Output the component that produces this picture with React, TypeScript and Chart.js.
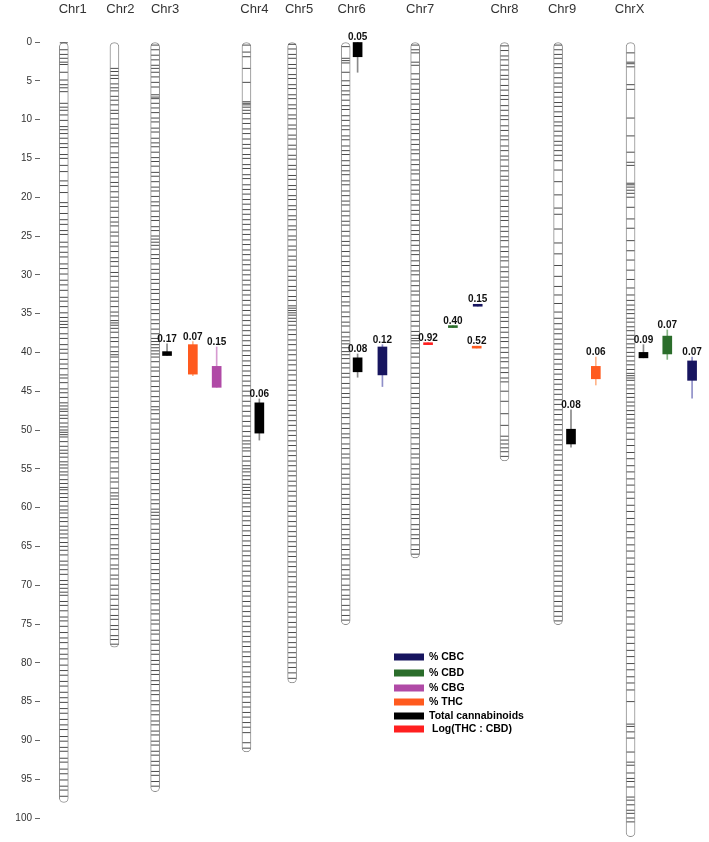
import React, { useEffect, useRef } from "react";
import { Chart, registerables } from "chart.js";

Chart.register(...registerables);

// ---------- DATA ----------
const chromNames = ["Chr1", "Chr2", "Chr3", "Chr4", "Chr5", "Chr6", "Chr7", "Chr8", "Chr9", "ChrX"];
const chromLengths = [98, 78, 96.6, 91.5, 82.6, 75.1, 66.5, 54, 75.1, 102.4];
const yTicks = [0, 5, 10, 15, 20, 25, 30, 35, 40, 45, 50, 55, 60, 65, 70, 75, 80, 85, 90, 95, 100];

const markersChr1 = [0.1,1.0,1.6,2.1,2.6,2.9,3.9,4.9,5.5,5.9,6.4,7.9,8.4,8.8,9.4,10.1,10.9,11.3,11.8,12.4,13.1,13.6,14.5,15.0,15.9,16.7,17.9,18.5,19.4,20.7,21.2,22.1,22.9,23.5,24.3,24.8,25.8,26.4,27.1,27.7,28.6,29.2,29.9,30.7,31.3,32.0,32.9,33.4,34.1,34.9,35.5,36.0,36.4,36.8,37.6,38.2,39.0,39.6,40.1,40.9,41.5,42.1,42.9,43.3,43.9,44.7,45.2,45.8,46.5,46.9,47.3,47.6,48.1,48.5,49.1,49.6,50.0,50.3,50.6,50.9,51.5,52.1,52.6,53.0,53.5,54.1,54.5,54.9,55.4,55.8,56.4,56.9,57.4,57.7,58.2,58.7,59.2,59.8,60.3,60.7,61.3,61.8,62.4,62.9,63.4,63.9,64.5,65.0,65.5,66.1,66.9,67.4,68.0,68.6,69.4,69.9,70.4,70.9,71.3,72.1,72.6,73.3,74.1,74.6,75.3,76.1,76.8,77.4,78.2,78.9,79.5,80.3,81.0,81.6,82.4,83.0,83.8,84.5,85.1,85.9,86.5,87.3,88.0,88.6,89.5,90.1,90.9,91.4,92.3,92.8,93.7,94.3,95.1,95.9,96.4,97.2];
const markersChr2 = [3.4,3.8,4.3,4.7,5.4,5.9,6.3,7.0,7.5,8.1,8.8,9.2,9.9,10.6,11.1,11.8,12.4,13.0,13.5,14.3,14.9,15.5,16.2,16.8,17.4,18.1,18.6,19.3,20.0,20.5,21.3,21.8,22.6,23.2,23.7,24.5,25.0,25.8,26.3,27.0,27.8,28.3,28.9,29.7,30.2,30.8,31.6,32.1,32.9,33.4,34.1,34.8,35.3,35.9,36.2,36.5,36.9,37.4,38.1,38.6,39.3,39.9,40.3,40.6,41.2,41.9,42.4,43.2,43.7,44.5,45.0,45.8,46.3,47.1,47.6,48.4,48.9,49.7,50.2,51.0,51.5,52.3,52.8,53.6,54.1,54.9,55.4,56.2,56.7,57.5,58.1,58.5,58.9,59.6,60.1,60.9,61.4,62.2,62.7,63.5,64.0,64.8,65.3,66.1,66.6,67.4,67.9,68.7,69.2,70.0,70.5,71.3,71.8,72.6,73.1,73.9,74.4,75.2,75.7,76.5,77.0,77.6];
const markersChr3 = [0.4,1.0,1.7,2.3,3.0,3.4,3.9,4.5,5.2,5.8,6.8,7.1,7.3,7.9,8.5,9.1,9.8,10.3,11.1,11.6,12.4,13.0,13.5,14.2,14.9,15.4,16.0,16.8,17.3,18.0,18.7,19.2,19.9,20.6,21.1,21.8,22.5,23.0,23.8,24.3,25.0,25.4,25.8,26.2,26.7,27.4,27.9,28.6,29.3,29.8,30.6,31.1,31.9,32.4,33.2,33.7,34.5,35.0,35.8,36.3,37.0,37.6,38.2,38.6,39.0,39.4,39.8,40.2,40.6,41.2,41.9,42.4,43.1,43.7,44.4,45.0,45.7,46.3,47.0,47.4,47.9,48.6,49.1,49.9,50.4,51.2,51.7,52.5,53.0,53.8,54.3,55.1,55.6,56.4,56.9,57.7,58.2,59.0,59.5,60.2,60.6,61.0,61.5,62.1,62.8,63.3,64.1,64.6,65.4,65.9,66.7,67.2,68.0,68.5,69.3,69.8,70.6,71.1,71.9,72.4,73.2,73.7,74.5,75.0,75.8,76.3,77.1,77.6,78.4,78.9,79.7,80.2,81.0,81.5,82.3,82.8,83.6,84.1,84.9,85.4,86.2,86.7,87.5,88.0,88.8,89.3,90.1,90.6,91.4,91.9,92.7,93.2,94.0,94.5,95.3,95.9];
const markersChr4 = [0.4,1.3,1.9,3.4,5.2,7.7,7.9,8.1,8.4,8.8,9.2,9.9,10.5,11.2,11.8,12.5,13.2,13.7,14.5,15.0,15.8,16.3,17.1,17.6,18.4,19.0,19.6,20.3,20.9,21.6,22.2,22.9,23.5,24.2,24.8,25.5,26.1,26.8,27.4,28.1,28.7,29.4,30.0,30.7,31.3,32.0,32.6,33.3,33.9,34.6,35.2,35.9,36.5,37.2,37.8,38.5,39.1,39.8,40.4,41.1,41.7,42.4,43.0,43.7,44.3,45.0,45.6,46.3,46.9,47.6,48.2,48.9,49.5,50.2,50.8,51.4,51.8,52.3,52.7,53.4,54.0,54.6,55.0,55.4,55.9,56.4,57.0,57.4,57.8,58.3,58.8,59.4,59.9,60.5,61.1,61.7,62.3,63.0,63.6,64.3,64.9,65.6,66.2,66.9,67.5,68.2,68.8,69.5,70.1,70.8,71.4,72.1,72.7,73.4,74.0,74.7,75.3,76.0,76.6,77.3,77.9,78.6,79.2,79.9,80.5,81.2,81.8,82.5,83.1,83.8,84.4,85.1,85.7,86.4,87.0,87.7,88.3,89.0,90.3,91.0];
const markersChr5 = [0.3,0.9,1.6,2.1,2.9,3.4,4.2,4.7,5.5,6.0,6.8,7.3,8.1,8.6,9.4,9.9,10.7,11.2,12.0,12.5,13.3,13.8,14.6,15.1,15.9,16.4,17.2,17.7,18.5,19.0,19.8,20.3,21.1,21.6,22.4,22.9,23.7,24.2,25.0,25.5,26.3,26.8,27.6,28.1,28.9,29.4,30.2,30.7,31.5,32.0,32.8,33.3,34.0,34.3,34.6,34.9,35.2,35.6,36.0,36.5,37.1,37.7,38.4,39.0,39.7,40.3,41.0,41.6,42.3,42.9,43.6,44.2,44.9,45.5,46.2,46.8,47.5,48.1,48.8,49.4,50.1,50.7,51.4,52.0,52.7,53.3,54.0,54.6,55.3,55.9,56.6,57.2,57.9,58.5,59.2,59.8,60.5,61.1,61.8,62.4,63.1,63.7,64.4,65.0,65.7,66.3,67.0,67.6,68.3,68.9,69.6,70.2,70.9,71.5,72.2,72.8,73.5,74.1,74.8,75.4,76.1,76.7,77.4,78.0,78.7,79.3,80.0,80.6,81.3,82.0];
const markersChr6 = [0.6,2.1,2.4,2.7,3.9,5.0,5.6,6.3,6.8,7.5,8.2,8.7,9.5,10.1,10.8,11.3,12.1,12.6,13.4,14.0,14.5,15.3,15.9,16.6,17.1,17.9,18.4,19.2,19.8,20.5,21.0,21.8,22.4,23.1,23.6,24.4,25.0,25.7,26.2,27.0,27.6,28.3,28.8,29.6,30.2,30.9,31.4,32.2,32.8,33.5,34.0,34.8,35.4,36.1,36.6,37.4,38.0,38.5,38.9,39.4,39.9,40.3,40.8,41.4,42.0,42.7,43.2,44.0,44.6,45.3,45.8,46.6,47.2,47.9,48.4,49.2,49.8,50.5,51.0,51.8,52.4,53.1,53.6,54.4,55.0,55.7,56.2,57.0,57.6,58.3,58.8,59.6,60.2,60.9,61.4,62.2,62.8,63.5,64.0,64.8,65.4,66.1,66.6,67.4,68.0,68.7,69.2,70.0,70.6,71.3,71.8,72.6,73.2,73.9,74.5];
const markersChr7 = [0.4,1.0,1.4,2.6,3.0,4.1,4.8,5.4,6.1,6.6,7.4,8.0,8.7,9.2,10.0,10.6,11.3,11.8,12.6,13.2,13.9,14.4,15.2,15.8,16.5,17.0,17.8,18.4,19.1,19.6,20.4,21.0,21.7,22.2,23.0,23.6,24.3,24.8,25.6,26.2,26.9,27.4,28.2,28.8,29.5,30.0,30.8,31.4,32.1,32.6,33.4,34.0,34.7,35.2,36.0,36.6,37.3,37.8,38.2,38.5,38.9,39.4,40.1,40.6,41.4,42.0,42.7,43.2,44.0,44.6,45.3,45.8,46.6,47.2,47.9,48.4,49.2,49.8,50.5,51.0,51.8,52.4,53.1,53.6,54.4,55.0,55.7,56.2,57.0,57.6,58.3,58.8,59.6,60.2,60.9,61.4,62.2,62.8,63.5,64.0,64.8,65.4,66.0];
const markersChr8 = [0.5,1.1,1.8,2.3,3.0,3.6,4.3,4.8,5.6,6.2,6.9,7.4,8.2,8.8,9.5,10.0,10.8,11.4,12.1,12.6,13.4,14.0,14.7,15.2,16.0,16.6,17.3,17.8,18.6,19.2,19.9,20.4,21.2,21.8,22.5,23.0,23.8,24.4,25.1,25.6,26.4,27.0,27.7,28.2,29.0,29.6,30.3,30.8,31.6,32.2,32.9,33.4,34.2,34.8,35.5,36.0,36.8,37.4,38.1,38.6,39.4,40.0,40.7,41.2,42.0,42.6,43.3,43.8,45.0,46.3,47.9,49.4,50.8,51.3,51.8,52.3,52.8,53.4];
const markersChr9 = [0.4,1.0,1.6,2.1,2.8,3.3,4.0,4.6,5.3,5.8,6.5,7.1,7.8,8.3,9.0,9.6,10.3,10.8,11.5,12.1,12.8,13.3,14.0,14.6,15.3,16.5,18.0,19.7,21.4,22.2,24.1,25.9,27.3,28.8,30.2,31.5,32.6,33.7,34.8,35.6,36.3,37.0,37.6,38.3,38.9,39.6,40.2,40.9,41.5,42.2,42.8,43.5,44.1,44.8,45.4,46.1,46.7,47.4,48.0,48.7,49.3,50.0,50.6,51.3,51.9,52.6,53.2,53.9,54.5,55.2,55.8,56.5,57.1,57.8,58.4,59.1,59.7,60.4,61.0,61.7,62.3,63.0,63.6,64.3,64.9,65.6,66.2,66.9,67.5,68.2,68.8,69.5,70.1,70.8,71.4,72.1,72.7,73.4,74.0,74.6];
const markersChrX = [1.4,2.6,2.8,3.2,5.5,6.1,9.8,12.1,14.2,15.5,15.9,18.2,18.4,18.7,19.1,19.5,20.0,21.3,22.8,24.0,25.6,26.9,28.1,29.4,30.6,31.7,32.6,33.3,33.9,34.5,35.0,35.6,36.1,36.7,37.2,37.8,38.3,38.9,39.4,40.0,40.5,41.1,41.6,42.2,42.7,43.0,43.3,43.6,44.2,44.7,45.3,45.8,46.4,46.9,47.5,48.0,48.6,49.1,49.7,50.4,51.2,52.0,52.9,53.7,54.6,55.4,56.3,57.1,58.0,58.8,59.7,60.5,61.4,62.2,63.1,63.9,64.8,65.6,66.5,67.3,68.2,69.0,69.9,70.7,71.6,72.4,73.3,74.1,75.0,75.8,76.7,77.5,78.4,79.2,80.1,80.9,81.8,82.6,83.5,85.0,87.9,88.2,88.9,89.7,91.5,92.8,93.2,94.2,94.9,95.3,96.0,97.3,97.7,98.3,99.0,99.4,100.0,100.5,101.0,101.5,102.1];
const markerSets = [markersChr1, markersChr2, markersChr3, markersChr4, markersChr5, markersChr6, markersChr7, markersChr8, markersChr9, markersChrX];

const traitNames = ["% CBC", "% CBD", "% CBG", "% THC", "Total cannabinoids", "Log(THC : CBD)"];
const traitKeys = ["CBC", "CBD", "CBG", "THC", "Total", "Log"];

const qtlTraits = ["Total", "THC", "CBG", "Total", "Total", "Total", "CBC", "Log", "CBD", "CBC", "THC", "Total", "THC", "Total", "CBD", "CBC"];
const qtlLabels = ["0.17", "0.07", "0.15", "0.06", "0.05", "0.08", "0.12", "0.92", "0.40", "0.15", "0.52", "0.08", "0.06", "0.09", "0.07", "0.07"];
const qtlLow = [38.9, 38.6, 39.3, 46.0, 0, 40.2, 39.0, 38.75, 36.55, 33.8, 39.2, 47.4, 40.6, 39.0, 37.1, 40.6];
const qtlBoxLow = [39.9, 39.0, 41.8, 46.5, 0, 40.7, 39.3, 38.75, 36.55, 33.8, 39.2, 49.9, 41.8, 40.0, 37.9, 41.1];
const qtlBoxHigh = [40.4, 42.8, 44.5, 50.4, 1.9, 42.5, 42.9, 39.0, 36.8, 34.05, 39.45, 51.8, 43.4, 40.7, 40.2, 43.6];
const qtlHigh = [40.4, 43.0, 44.5, 51.3, 3.9, 43.2, 44.4, 39.0, 36.8, 34.05, 39.45, 52.2, 44.2, 40.7, 40.9, 45.9];

// ---------- LAYOUT / STYLE ----------
const CHROM_X = [64, 115, 156, 248, 294, 348, 418, 508, 562, 635];
const TITLE_X = [73, 121, 166, 256, 301, 354, 423, 508, 566, 634];
const QTL_X = [168, 194, 218, 261, 360, 360, 385, 431, 456, 481, 480, 575, 600, 648, 672, 697];
const TRAIT_COLOR: Record<string, string> = {
  CBC: "#17155f", CBD: "#2b6d2b", CBG: "#b04aa6", THC: "#ff5a1e", Total: "#000000", Log: "#ff1f1f",
};
const WHISKER_COLOR: Record<string, string> = {
  CBC: "#8f8fc8", CBD: "#86b486", CBG: "#d69ad0", THC: "#ffb48a", Total: "#8a8a8a", Log: "#ff9090",
};

const overlayPlugin = {
  id: "overlay",
  afterDatasetsDraw(chart: any) {
    const { ctx, scales } = chart;
    const xs = scales.x, ys = scales.y;
    ctx.save();
    // chromosome titles
    ctx.font = "13px 'Liberation Sans', Arial, sans-serif";
    ctx.fillStyle = "#333";
    ctx.textAlign = "center";
    ctx.textBaseline = "alphabetic";
    chromNames.forEach((n, i) => ctx.fillText(n, xs.getPixelForValue(TITLE_X[i]), 13));
    // qtl labels
    ctx.font = "bold 10px 'Liberation Sans', Arial, sans-serif";
    ctx.fillStyle = "#111";
    qtlLabels.forEach((l, i) => {
      ctx.fillText(l, xs.getPixelForValue(QTL_X[i]), ys.getPixelForValue(qtlLow[i]) - 2);
    });
    // legend
    const lx = 394, ly0 = 657, dy = [0, 16, 31, 45, 59, 72];
    ctx.textAlign = "left";
    ctx.textBaseline = "middle";
    ctx.font = "bold 10.5px 'Liberation Sans', Arial, sans-serif";
    traitNames.forEach((t, i) => {
      const y = ly0 + dy[i];
      ctx.fillStyle = TRAIT_COLOR[traitKeys[i]];
      ctx.fillRect(lx, y - 3.5, 30, 7);
      ctx.fillStyle = "#000";
      ctx.fillText(t, lx + (i === 5 ? 38 : 35), y + 0.5);
    });
    ctx.restore();
  },
};

export default function App() {
  const ref = useRef<HTMLCanvasElement | null>(null);
  useEffect(() => {
    if (!ref.current) return;
    const chromData = chromNames.map((_, i) => ({ x: CHROM_X[i], y: [0, chromLengths[i]] }));
    const markerData = markerSets.flatMap((arr, i) => arr.map((v) => ({ x: CHROM_X[i], y: v })));
    const whiskerData = qtlLabels.map((_, i) => ({ x: QTL_X[i], y: [qtlLow[i], qtlHigh[i]] }));
    const boxData = qtlLabels.map((_, i) => ({ x: QTL_X[i], y: [qtlBoxLow[i], qtlBoxHigh[i]] }));
    const chart = new Chart(ref.current, {
      type: "bar",
      data: {
        datasets: [
          {
            type: "bar",
            label: "chromosomes",
            data: chromData as any,
            backgroundColor: "#ffffff",
            borderColor: "#8c8c8c",
            borderWidth: 1,
            borderRadius: 5,
            borderSkipped: false,
            barThickness: 9,
            grouped: false,
            order: 5,
            clip: false as any,
          },
          {
            type: "scatter",
            label: "markers",
            data: markerData as any,
            pointStyle: "line",
            radius: 4,
            borderColor: "#4a4a4a",
            borderWidth: 1,
            order: 4,
            clip: false as any,
          },
          {
            type: "bar",
            label: "whiskers",
            data: whiskerData as any,
            backgroundColor: qtlTraits.map((t) => WHISKER_COLOR[t]),
            borderWidth: 0,
            barThickness: 1,
            grouped: false,
            order: 3,
            clip: false as any,
          },
          {
            type: "bar",
            label: "qtl",
            data: boxData as any,
            backgroundColor: qtlTraits.map((t) => TRAIT_COLOR[t]),
            borderWidth: 0,
            barThickness: 9,
            grouped: false,
            order: 2,
            clip: false as any,
          },
        ],
      },
      options: {
        animation: false,
        responsive: false,
        events: [],
        layout: { padding: { top: 42, bottom: 24, left: 0, right: 0 } },
        plugins: { legend: { display: false }, tooltip: { enabled: false } },
        scales: {
          x: { type: "linear", min: 40, max: 709, display: false, offset: false },
          y: {
            type: "linear",
            position: "left",
            reverse: true,
            min: 0,
            max: 100,
            afterBuildTicks: (s: any) => { s.ticks = yTicks.map((v) => ({ value: v })); },
            afterFit: (s: any) => { s.width = 40; },
            ticks: { color: "#333", font: { size: 10, family: "'Liberation Sans', Arial" }, padding: 3, autoSkip: false },
            grid: { drawOnChartArea: false, tickLength: 5, color: "#666" },
            border: { display: false },
          },
        },
      },
      plugins: [overlayPlugin],
    });
    return () => chart.destroy();
  }, []);
  return (
    <div style={{ position: "fixed", left: 0, top: 0, width: 709, height: 842, background: "#fff" }}>
      <canvas ref={ref} width={709} height={842} />
    </div>
  );
}
